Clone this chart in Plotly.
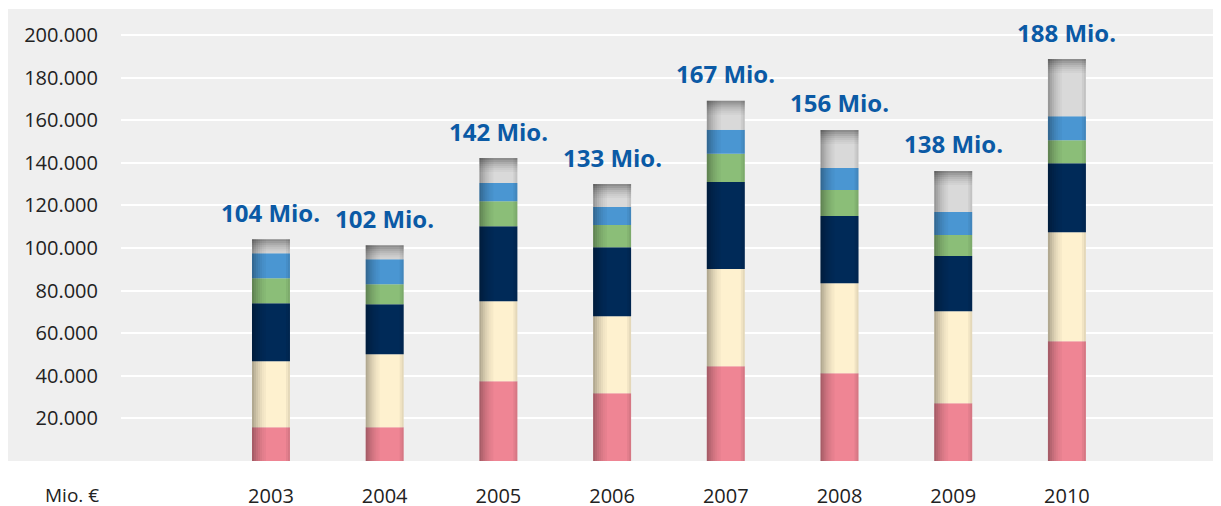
import plotly.graph_objects as go

years = [2003, 2004, 2005, 2006, 2007, 2008, 2009, 2010]
pink = [15800, 15800, 37400, 31800, 44500, 41200, 27100, 56200]
cream = [31000, 34300, 37600, 36200, 45600, 42300, 43200, 51200]
navy = [27300, 23500, 35200, 32400, 40900, 31500, 25900, 32400]
green = [11700, 9400, 11800, 10400, 13200, 12200, 9900, 10800]
blue = [11700, 11700, 8500, 8400, 11300, 10300, 10800, 11300]
gray = [6600, 6600, 11700, 10800, 13600, 17900, 19300, 26800]
total_labels = ["104 Mio.", "102 Mio.", "142 Mio.", "133 Mio.", "167 Mio.", "156 Mio.", "138 Mio.", "188 Mio."]
ytick_vals = [20000, 40000, 60000, 80000, 100000, 120000, 140000, 160000, 180000, 200000]
ytick_text = ["20.000", "40.000", "60.000", "80.000", "100.000", "120.000", "140.000", "160.000", "180.000", "200.000"]

series = [
    ("Segment 1", pink, "#EF8594"),
    ("Segment 2", cream, "#FEF1CF"),
    ("Segment 3", navy, "#002A58"),
    ("Segment 4", green, "#8BBE78"),
    ("Segment 5", blue, "#4A96D2"),
    ("Segment 6", gray, "#D9D9D9"),
]

BAR_W = 0.334
FONT = "Open Sans"
LABEL_BLUE = "#0B5AA5"
TEXT_COL = "#222222"

fig = go.Figure()

base = [0] * len(years)
for name, vals, col in series:
    fig.add_trace(go.Bar(
        x=years, y=vals, base=list(base), name=name,
        width=BAR_W, offset=-BAR_W / 2,
        marker=dict(color=col, line=dict(width=0)),
        showlegend=False,
    ))
    base = [b + v for b, v in zip(base, vals)]
totals = base

# cylinder-like shading: darker left edge
px_year = 1 / 113.7
left_alphas = [0.30, 0.24, 0.18, 0.13, 0.09, 0.05, 0.03]
for k, a in enumerate(left_alphas):
    fig.add_trace(go.Bar(
        x=years, y=totals, base=[0] * len(years),
        width=2 * px_year, offset=-BAR_W / 2 + k * 2 * px_year,
        marker=dict(color=f"rgba(0,0,0,{a})", line=dict(width=0)),
        showlegend=False, hoverinfo="skip",
    ))
right_alphas = [0.10, 0.05]
for k, a in enumerate(right_alphas):
    fig.add_trace(go.Bar(
        x=years, y=totals, base=[0] * len(years),
        width=2 * px_year, offset=BAR_W / 2 - (k + 1) * 2 * px_year,
        marker=dict(color=f"rgba(0,0,0,{a})", line=dict(width=0)),
        showlegend=False, hoverinfo="skip",
    ))

# top shading of the grey segment
px_val = 470
top_alphas = [0.35, 0.28, 0.21, 0.15, 0.10, 0.06, 0.03]
for k, a in enumerate(top_alphas):
    fig.add_trace(go.Bar(
        x=years, y=[2 * px_val] * len(years),
        base=[t - (k + 1) * 2 * px_val for t in totals],
        width=BAR_W, offset=-BAR_W / 2,
        marker=dict(color=f"rgba(0,0,0,{a})", line=dict(width=0)),
        showlegend=False, hoverinfo="skip",
    ))

for yr, t, lab in zip(years, totals, total_labels):
    fig.add_annotation(
        x=yr, y=t, text=f"<b>{lab}</b>", showarrow=False,
        yshift=27, yanchor="middle", xanchor="center",
        font=dict(family=FONT, size=24, color=LABEL_BLUE),
    )

fig.add_annotation(
    xref="paper", yref="paper", x=-0.0445, y=-0.0752,
    text="Mio. €", showarrow=False, xanchor="center", yanchor="middle",
    font=dict(family=FONT, size=19, color=TEXT_COL),
)

# grey panel extending to the left of the plot area
fig.add_shape(
    type="rect", xref="paper", yref="paper",
    x0=-0.1027, x1=1, y0=0, y1=1,
    fillcolor="#EFEFEF", line=dict(width=0), layer="below",
)

fig.update_layout(
    width=1213, height=498,
    margin=dict(l=113, r=0, t=1, b=45, pad=0),
    barmode="overlay",
    paper_bgcolor="white",
    plot_bgcolor="rgba(0,0,0,0)",
    font=dict(family=FONT, size=20, color=TEXT_COL),
    showlegend=False,
)
fig.update_xaxes(
    range=[2001.681, 2011.355],
    tickvals=years, ticktext=[str(y) for y in years],
    showgrid=False, zeroline=False, showline=False,
    ticks="", ticklabelstandoff=21, automargin=False,
    tickfont=dict(family=FONT, size=20, color=TEXT_COL),
)
fig.update_yaxes(
    range=[0, 212200],
    tickvals=ytick_vals, ticktext=ytick_text,
    showgrid=True, gridcolor="white", gridwidth=2,
    zeroline=False, showline=False,
    ticks="", ticklabelstandoff=22, automargin=False,
    tickfont=dict(family=FONT, size=20, color=TEXT_COL),
)

fig.write_html("out.html")
